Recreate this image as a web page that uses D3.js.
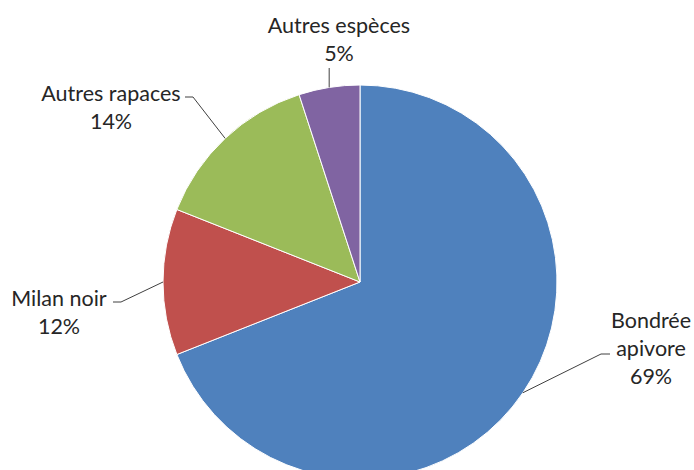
<!DOCTYPE html>
<html><head><meta charset="utf-8">
<script src="https://cdn.jsdelivr.net/npm/d3@7"></script>
<style>html,body{margin:0;padding:0;background:#fff;overflow:hidden}</style>
</head><body>
<svg id="c" width="694" height="470"></svg>
<script>
const categories = ["Bondrée apivore", "Milan noir", "Autres rapaces", "Autres espèces"];
const values = [69, 12, 14, 5];
const labelLines = [["Bondrée", "apivore", "69%"], ["Milan noir", "12%"], ["Autres rapaces", "14%"], ["Autres espèces", "5%"]];
const colors = ["#4F81BD", "#C0504D", "#9BBB59", "#8064A2"];
const title = "(Répartition par espèce)";

const svg = d3.select("#c");
const cx = 360, cy = 282, R = 197;
const font = "Lato, 'Open Sans', sans-serif";
const fs = 21.5, lh = 28;

svg.append("text").attr("x", 360).attr("y", -5).attr("text-anchor", "middle")
  .attr("font-family", font).attr("font-weight", "bold").attr("font-size", 26).attr("fill", "#000").text(title);

const pie = d3.pie().sort(null).value(d => d);
const arcs = pie(values);
const arc = d3.arc().innerRadius(0).outerRadius(R);
const g = svg.append("g").attr("transform", `translate(${cx},${cy})`);
g.selectAll("path").data(arcs).join("path")
  .attr("d", arc).attr("fill", (d, i) => colors[i])
  .attr("stroke", "#fff").attr("stroke-width", 1);

const layout = [
  {x: 651, y: 328, ax: 610, ay: 354, elbow: -9},
  {x: 59, y: 306, ax: 113, ay: 302, elbow: 8},
  {x: 111, y: 101, ax: 185, ay: 97, elbow: 8},
  {x: 339, y: 33, ax: null, ay: 68, elbow: 0}
];

arcs.forEach((d, i) => {
  const mid = (d.startAngle + d.endAngle) / 2;
  const px = cx + R * Math.sin(mid), py = cy - R * Math.cos(mid);
  const L = layout[i];
  let pts;
  if (L.ax === null) {
    pts = [[px, L.ay], [px, py]];
  } else {
    pts = [[L.ax, L.ay], [L.ax + L.elbow, L.ay], [px, py]];
  }
  svg.append("path").attr("d", d3.line()(pts)).attr("fill", "none")
    .attr("stroke", "#404040").attr("stroke-width", 1);
  const t = svg.append("text").attr("text-anchor", "middle")
    .attr("font-family", font).attr("font-size", fs).attr("fill", "#262626");
  labelLines[i].forEach((s, k) => {
    t.append("tspan").attr("x", L.x).attr("y", L.y + k * lh).text(s);
  });
});
</script>
</body></html>
